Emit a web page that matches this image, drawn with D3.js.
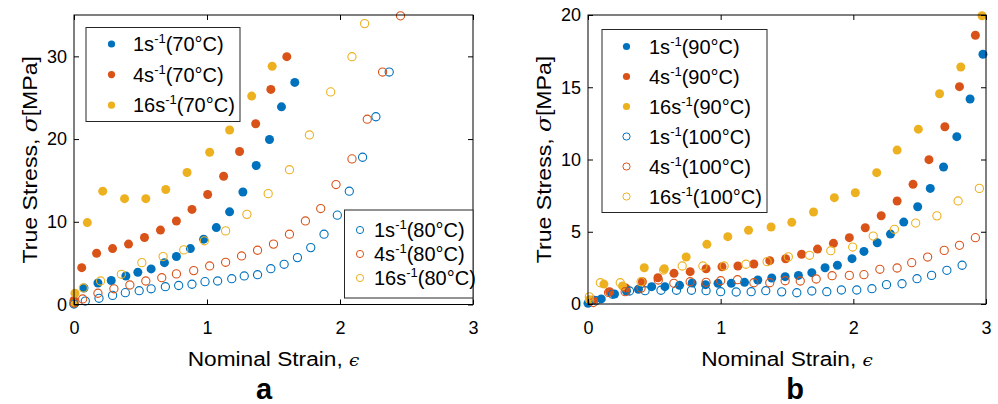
<!DOCTYPE html>
<html><head><meta charset="utf-8">
<script src="https://cdn.jsdelivr.net/npm/d3@7"></script>
<style>
body{margin:0;background:#fff}
text{font-family:"Liberation Sans",Arial,Helvetica,sans-serif;fill:#000}
</style>
</head><body>
<svg id="c" width="998" height="404"></svg>
<script>
// ---------- data ----------
const xTicks = [0, 1, 2, 3];
const yTicksA = [0, 10, 20, 30];
const yTicksB = [0, 5, 10, 15, 20];

// Panel a: 70°C (filled) and 80°C (open)
const a_1s_70 = [[0,0.1],[0.075,2.0],[0.18,2.6],[0.28,2.9],[0.39,3.45],[0.48,3.9],[0.58,4.3],[0.68,5.06],[0.77,5.8],[0.875,6.76],[0.975,7.9],[1.07,9.3],[1.17,11.2],[1.27,13.6],[1.37,16.8],[1.47,19.95],[1.56,23.9],[1.66,26.85]];
const a_4s_70 = [[0,0.5],[0.058,4.45],[0.17,6.2],[0.29,6.76],[0.41,7.3],[0.53,8.1],[0.65,9.0],[0.77,10.1],[0.887,11.5],[1.005,13.3],[1.125,15.5],[1.245,18.5],[1.366,21.85],[1.48,26.0],[1.6,29.96]];
const a_16s_70 = [[0,0.15],[0.0075,1.36],[0.1,9.9],[0.216,13.7],[0.38,12.8],[0.54,12.8],[0.69,13.9],[0.85,15.96],[1.02,18.4],[1.17,21.1],[1.336,25.2],[1.49,28.8]];
const a_1s_80 = [[0,0.05],[0.085,0.42],[0.188,0.75],[0.29,1.1],[0.386,1.43],[0.49,1.67],[0.58,1.9],[0.687,2.15],[0.787,2.3],[0.887,2.45],[0.985,2.76],[1.08,2.84],[1.186,3.12],[1.28,3.45],[1.38,3.6],[1.48,4.33],[1.58,4.86],[1.68,5.67],[1.78,6.88],[1.88,8.5],[1.98,10.8],[2.07,13.7],[2.17,17.8],[2.27,22.7],[2.37,28.1]];
const a_4s_80 = [[0,0.2],[0.065,0.67],[0.18,1.36],[0.3,1.9],[0.42,2.36],[0.54,2.84],[0.66,3.24],[0.77,3.7],[0.9,4.1],[1.02,4.66],[1.14,5.1],[1.26,5.87],[1.38,6.56],[1.5,7.3],[1.62,8.5],[1.74,10.1],[1.855,11.6],[1.97,14.5],[2.09,17.6],[2.205,22.4],[2.32,28.1],[2.455,34.9]];
const a_16s_80 = [[0.07,2.0],[0.2,2.84],[0.356,3.65],[0.51,5.06],[0.67,5.8],[0.825,6.6],[0.98,7.7],[1.14,8.9],[1.3,10.9],[1.46,13.4],[1.62,16.3],[1.77,20.5],[1.93,25.7],[2.09,29.96],[2.185,33.96]];

// Panel b: 90°C (filled) and 100°C (open)
const b_1s_90 = [[0,0.05],[0.1,0.35],[0.2,0.69],[0.29,0.9],[0.38,1.02],[0.48,1.2],[0.58,1.2],[0.69,1.29],[0.785,1.45],[0.886,1.34],[0.98,1.43],[1.08,1.43],[1.18,1.5],[1.28,1.66],[1.385,1.8],[1.486,1.89],[1.586,1.98],[1.687,2.17],[1.787,2.51],[1.88,2.68],[1.99,3.14],[2.08,3.64],[2.18,4.24],[2.28,4.84],[2.38,5.67],[2.485,6.73],[2.58,8.0],[2.68,9.48],[2.78,11.58],[2.88,14.19],[2.977,17.28]];
const b_4s_90 = [[0.04,0.28],[0.163,0.85],[0.286,1.1],[0.41,1.54],[0.527,1.82],[0.648,2.12],[0.77,2.24],[0.89,2.44],[1.01,2.58],[1.13,2.63],[1.25,2.77],[1.37,3.0],[1.49,3.13],[1.61,3.44],[1.73,3.8],[1.85,4.2],[1.97,4.59],[2.09,5.28],[2.21,6.11],[2.33,7.13],[2.45,8.28],[2.57,9.99],[2.69,12.27],[2.8,15.04],[2.92,18.6]];
const b_16s_90 = [[0.01,0.3],[0.12,1.38],[0.26,1.25],[0.424,2.51],[0.575,2.44],[0.74,3.25],[0.896,4.13],[1.054,4.66],[1.21,5.1],[1.38,5.33],[1.536,5.65],[1.7,6.37],[1.857,7.36],[2.015,7.7],[2.176,9.09],[2.33,10.65],[2.49,12.1],[2.65,14.55],[2.81,16.4],[2.97,19.95]];
const b_1s_100 = [[0.06,0.23],[0.185,0.67],[0.313,0.9],[0.43,0.92],[0.55,0.95],[0.667,0.95],[0.78,0.95],[0.89,0.92],[1.0,0.85],[1.117,0.83],[1.23,0.85],[1.34,0.92],[1.46,0.84],[1.574,0.78],[1.687,0.9],[1.8,0.85],[1.91,0.97],[2.026,0.97],[2.14,1.06],[2.25,1.34],[2.367,1.4],[2.48,1.75],[2.59,1.98],[2.705,2.33],[2.82,2.68]];
const b_4s_100 = [[0.04,0.1],[0.155,0.8],[0.28,0.85],[0.4,1.1],[0.53,1.66],[0.647,1.43],[0.77,1.54],[0.89,1.5],[1.0,1.61],[1.127,1.68],[1.25,1.47],[1.37,1.47],[1.486,1.61],[1.6,1.59],[1.72,1.73],[1.84,1.96],[1.97,1.98],[2.08,2.03],[2.2,2.4],[2.33,2.49],[2.44,2.86],[2.56,3.25],[2.685,3.71],[2.8,4.06],[2.92,4.59]];
const b_16s_100 = [[0.01,0.5],[0.093,1.47],[0.243,1.47],[0.4,1.54],[0.57,2.35],[0.71,2.63],[0.866,2.63],[1.026,2.63],[1.19,2.75],[1.35,2.93],[1.51,3.26],[1.67,3.37],[1.83,3.69],[1.995,3.94],[2.15,4.7],[2.31,5.17],[2.47,5.6],[2.63,6.1],[2.79,7.13],[2.95,8.0]];

const rates = ["1s", "4s", "16s"];
const tempsA = ["(70°C)", "(80°C)"];
const tempsB = ["(90°C)", "(100°C)"];
const xLabelText = "Nominal Strain, ";
const yLabelText = "True Stress, ";
const panelLetters = ["a", "b"];

// ---------- style ----------
const colors = ["#0072BD", "#D95319", "#EDB120"];
const R = 4.5;
const svg = d3.select("#c");

function stretched(parent, x, y, rot, sx, fs) {
  return parent.append("g")
    .attr("transform", `translate(${x},${y}) rotate(${rot}) scale(${sx},1)`)
    .append("text").attr("text-anchor", "middle").attr("font-size", fs);
}

function panel(opt) {
  const x = d3.scaleLinear().domain([0, 3]).range([opt.x0, opt.x1]);
  const y = d3.scaleLinear().domain([0, opt.ymax]).range([opt.y0, opt.y1]);
  const g = svg.append("g");
  const clipId = "clip" + opt.id;
  g.append("clipPath").attr("id", clipId).append("rect")
    .attr("x", opt.x0 - 6).attr("y", opt.y1 - 6)
    .attr("width", opt.x1 - opt.x0 + 12).attr("height", opt.y0 - opt.y1 + 12);

  const data = g.append("g").attr("clip-path", `url(#${clipId})`);
  opt.filled.forEach((s, i) => {
    data.append("g").selectAll("circle").data(s).join("circle")
      .attr("cx", d => x(d[0])).attr("cy", d => y(d[1])).attr("r", R)
      .attr("fill", colors[i]);
  });
  opt.open.forEach((s, i) => {
    data.append("g").selectAll("circle").data(s).join("circle")
      .attr("cx", d => x(d[0])).attr("cy", d => y(d[1])).attr("r", R - 0.4)
      .attr("fill", "none").attr("stroke", colors[i]).attr("stroke-width", 1.1);
  });

  // axes
  const fs = 18;
  const ax = g.append("g").attr("transform", `translate(0,${opt.y0})`)
    .call(d3.axisBottom(x).tickValues(xTicks).tickSize(-5).tickPadding(17).tickFormat(d3.format("d")));
  const axT = g.append("g").attr("transform", `translate(0,${opt.y1})`)
    .call(d3.axisTop(x).tickValues(xTicks).tickSize(-5).tickFormat(""));
  const ay = g.append("g").attr("transform", `translate(${opt.x0},0)`)
    .call(d3.axisLeft(y).tickValues(opt.yTicks).tickSize(-5).tickPadding(7).tickFormat(d3.format("d")));
  const ayR = g.append("g").attr("transform", `translate(${opt.x1},0)`)
    .call(d3.axisRight(y).tickValues(opt.yTicks).tickSize(-5).tickFormat(""));
  [ax, axT, ay, ayR].forEach(a => {
    a.select(".domain").remove();
    a.selectAll("line").attr("stroke", "#000").attr("stroke-width", 1);
    a.selectAll("text").attr("font-size", fs).attr("font-family", "Liberation Sans, Arial, sans-serif").attr("fill", "#000");
  });
  g.append("rect").attr("x", opt.x0).attr("y", opt.y1)
    .attr("width", opt.x1 - opt.x0).attr("height", opt.y0 - opt.y1)
    .attr("fill", "none").attr("stroke", "#000").attr("stroke-width", 1);

  // axis labels
  const cx = (opt.x0 + opt.x1) / 2;
  const xl = stretched(g, cx, opt.y0 + 61.5, 0, 1.08, 21);
  xl.append("tspan").text(xLabelText);
  xl.append("tspan").attr("font-style", "italic").attr("font-family", "DejaVu Serif, serif").attr("font-size", 17).text("ϵ");

  const cy = (opt.y0 + opt.y1) / 2;
  const yl = stretched(g, opt.x0 - 37, cy, -90, 1.1, 21);
  yl.append("tspan").text(yLabelText);
  yl.append("tspan").attr("font-style", "italic").attr("font-family", "DejaVu Serif, serif").text("σ");
  yl.append("tspan").text("[MPa]");

  g.append("text").attr("x", opt.letterX).attr("y", 399).attr("text-anchor", "middle")
    .attr("font-size", 29).attr("font-weight", "bold").text(opt.letter);

  // legends
  opt.legends.forEach(L => {
    const lg = g.append("g");
    lg.append("rect").attr("x", L.x).attr("y", L.y).attr("width", L.w).attr("height", L.h)
      .attr("fill", "#fff").attr("stroke", "#262626").attr("stroke-width", 1);
    L.items.forEach((it, k) => {
      const ry = L.y + L.first + k * L.step;
      const c = lg.append("circle").attr("cx", L.mx).attr("cy", ry).attr("r", 3.6);
      if (it.filled) c.attr("fill", colors[it.ci]);
      else c.attr("fill", "none").attr("stroke", colors[it.ci]).attr("stroke-width", 1);
      const t = lg.append("text").attr("x", L.tx).attr("y", ry + 7).attr("font-size", 20);
      t.append("tspan").text(it.rate);
      t.append("tspan").attr("font-size", 13).attr("dy", -8).text("-1");
      t.append("tspan").attr("dy", 8).text(it.temp);
    });
  });
}

panel({
  id: "a", x0: 74, x1: 473, y0: 304.5, y1: 15, ymax: 35, yTicks: yTicksA,
  filled: [a_1s_70, a_4s_70, a_16s_70], open: [a_1s_80, a_4s_80, a_16s_80],
  letter: panelLetters[0], letterX: 264,
  legends: [
    { x: 86, y: 27.5, w: 154, h: 94, mx: 111.5, tx: 133, first: 16.5, step: 30.6,
      items: rates.map((r, i) => ({ rate: r, temp: tempsA[0], ci: i, filled: true })) },
    { x: 344.5, y: 210, w: 128.5, h: 88, mx: 360, tx: 374, first: 20, step: 24,
      items: rates.map((r, i) => ({ rate: r, temp: tempsA[1], ci: i, filled: false })) }
  ]
});

panel({
  id: "b", x0: 588, x1: 986, y0: 304, y1: 15, ymax: 20, yTicks: yTicksB,
  filled: [b_1s_90, b_4s_90, b_16s_90], open: [b_1s_100, b_4s_100, b_16s_100],
  letter: panelLetters[1], letterX: 795,
  legends: [
    { x: 602, y: 29.5, w: 165, h: 183, mx: 626.5, tx: 649, first: 17, step: 30,
      items: rates.map((r, i) => ({ rate: r, temp: tempsB[0], ci: i, filled: true }))
        .concat(rates.map((r, i) => ({ rate: r, temp: tempsB[1], ci: i, filled: false }))) }
  ]
});
</script>
</body></html>
